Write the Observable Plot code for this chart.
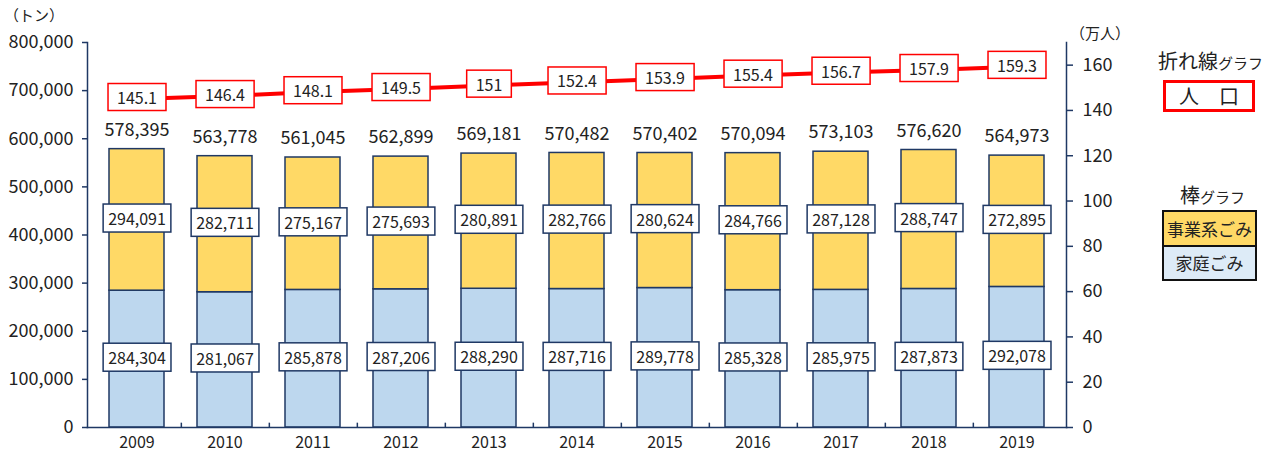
<!DOCTYPE html>
<html><head><meta charset="utf-8">
<script src="https://cdn.jsdelivr.net/npm/d3@7"></script>
<script src="https://cdn.jsdelivr.net/npm/@observablehq/plot@0.6"></script>
<style>
body{margin:0;background:#fff;font-family:"Noto Sans CJK JP","Noto Sans",sans-serif;color:#222;}
#wrap{position:relative;width:1263px;height:455px;}
.abs{position:absolute;white-space:nowrap;}
</style></head>
<body><div id="wrap"></div>
<script>
const years = ["2009","2010","2011","2012","2013","2014","2015","2016","2017","2018","2019"];
const household = [284304, 281067, 285878, 287206, 288290, 287716, 289778, 285328, 285975, 287873, 292078];
const business = [294091, 282711, 275167, 275693, 280891, 282766, 280624, 284766, 287128, 288747, 272895];
const totals = [578395, 563778, 561045, 562899, 569181, 570482, 570402, 570094, 573103, 576620, 564973];
const population = [145.1, 146.4, 148.1, 149.5, 151, 152.4, 153.9, 155.4, 156.7, 157.9, 159.3];
const leftTicks = [0, 100000, 200000, 300000, 400000, 500000, 600000, 700000, 800000];
const rightTicks = [0, 20, 40, 60, 80, 100, 120, 140, 160];

const NAVY = "#1F3864", YELLOW = "#FFD966", BLUE = "#BDD7EE", RED = "#FF0000";
const ratio = 800000 / 170;
const fmt = d3.format(",");

const segs = [];
years.forEach((y, i) => {
  segs.push({year: y, kind: "家庭ごみ", y1: 0, y2: household[i], v: household[i]});
  segs.push({year: y, kind: "事業系ごみ", y1: household[i], y2: household[i] + business[i], v: business[i]});
});
const tot = years.map((y, i) => ({year: y, v: totals[i]}));
const pop = years.map((y, i) => ({year: y, v: population[i]}));

const mL = 87, mR = 197;
const step = (1263 - mL - mR) / (11 - 0.38 + 0.42);

const chart = Plot.plot({
  width: 1263, height: 455,
  marginLeft: mL, marginRight: mR, marginTop: 42, marginBottom: 28,
  style: {fontFamily: '"Noto Sans CJK JP","Noto Sans",sans-serif', color: "#222", background: "#fff"},
  x: {type: "band", domain: years, paddingInner: 0.38, paddingOuter: 0.21, align: 0.5},
  y: {domain: [0, 800000]},
  marks: [
    Plot.barY(segs, {x: "year", y1: "y1", y2: "y2", fill: d => d.kind === "家庭ごみ" ? BLUE : YELLOW, stroke: NAVY, strokeWidth: 1.5}),
    Plot.frame({anchor: "left", stroke: NAVY, strokeWidth: 1.5}),
    Plot.frame({anchor: "right", stroke: NAVY, strokeWidth: 1.5}),
    Plot.frame({anchor: "bottom", stroke: NAVY, strokeWidth: 1.5}),
    Plot.ruleX(years.slice(0, -1), {x: d => d, dx: step / 2, y1: 0, y2: 9000, stroke: NAVY, strokeWidth: 1.5}),
    Plot.axisY({ticks: leftTicks, tickFormat: fmt, tickSize: 5, tickPadding: 9, fontSize: 18, stroke: NAVY, strokeWidth: 1.5, label: null}),
    Plot.axisY(rightTicks.map(t => t * ratio), {anchor: "right", tickFormat: d => String(Math.round(d / ratio)), tickSize: 6, tickPadding: 10, fontSize: 18, stroke: NAVY, strokeWidth: 1.5, label: null}),
    Plot.axisX({tickSize: 0, tickPadding: 9, fontSize: 16, label: null}),
    Plot.line(pop, {x: "year", y: d => d.v * ratio, stroke: RED, strokeWidth: 4}),
    Plot.text(tot, {x: "year", y: "v", text: d => fmt(d.v), dy: -19, fontSize: 18, fill: "#222"}),
    Plot.text(segs, {x: "year", y: d => (d.y1 + d.y2) / 2, text: d => fmt(d.v), fontSize: 16, fill: "#222"}),
    Plot.text(pop, {x: "year", y: d => d.v * ratio, text: d => String(d.v), fontSize: 16, fill: "#222"})
  ]
});
const wrap = document.getElementById("wrap");
wrap.appendChild(chart);

// boxes behind labels
const textGroups = chart.querySelectorAll('g[aria-label="text"]');
function boxify(g, stroke, sw, padX, padY, minW) {
  g.querySelectorAll("text").forEach(t => {
    const bb = t.getBBox();
    const w = Math.max(bb.width + 2 * padX, minW);
    const cx = bb.x + bb.width / 2;
    const r = document.createElementNS("http://www.w3.org/2000/svg", "rect");
    r.setAttribute("x", cx - w / 2); r.setAttribute("y", bb.y - padY);
    r.setAttribute("width", w); r.setAttribute("height", bb.height + 2 * padY);
    r.setAttribute("fill", "#fff"); r.setAttribute("stroke", stroke); r.setAttribute("stroke-width", sw);
    if (t.getAttribute("transform")) r.setAttribute("transform", t.getAttribute("transform"));
    g.insertBefore(r, t);
  });
}
boxify(textGroups[1], NAVY, 1.5, 5, 2, 64);
boxify(textGroups[2], RED, 1.5, 9, 1.5, 0);

function add(html, style) {
  const d = document.createElement("div");
  d.className = "abs"; d.innerHTML = html; Object.assign(d.style, style);
  wrap.appendChild(d);
}
add("（トン）", {left: "4px", top: "4px", fontSize: "15px"});
add("（万人）", {left: "1070px", top: "22px", fontSize: "15px"});
add('折れ線<span style="font-size:15px">グラフ</span>', {left: "1158px", top: "46px", fontSize: "20px"});
add("人　口", {left: "1163px", top: "80px", width: "86px", height: "26px", lineHeight: "26px", border: "3px solid " + RED, textAlign: "center", fontSize: "20px"});
add('棒<span style="font-size:15px">グラフ</span>', {left: "1180px", top: "180px", fontSize: "20px"});
add('<div style="background:#FFD966;height:33px;line-height:33px;border-bottom:2px solid #111;">事業系ごみ</div><div style="background:#DDEBF7;height:32px;line-height:32px;">家庭ごみ</div>',
  {left: "1162px", top: "210px", width: "91px", border: "2px solid #111", textAlign: "center", fontSize: "17px"});
</script></body></html>
